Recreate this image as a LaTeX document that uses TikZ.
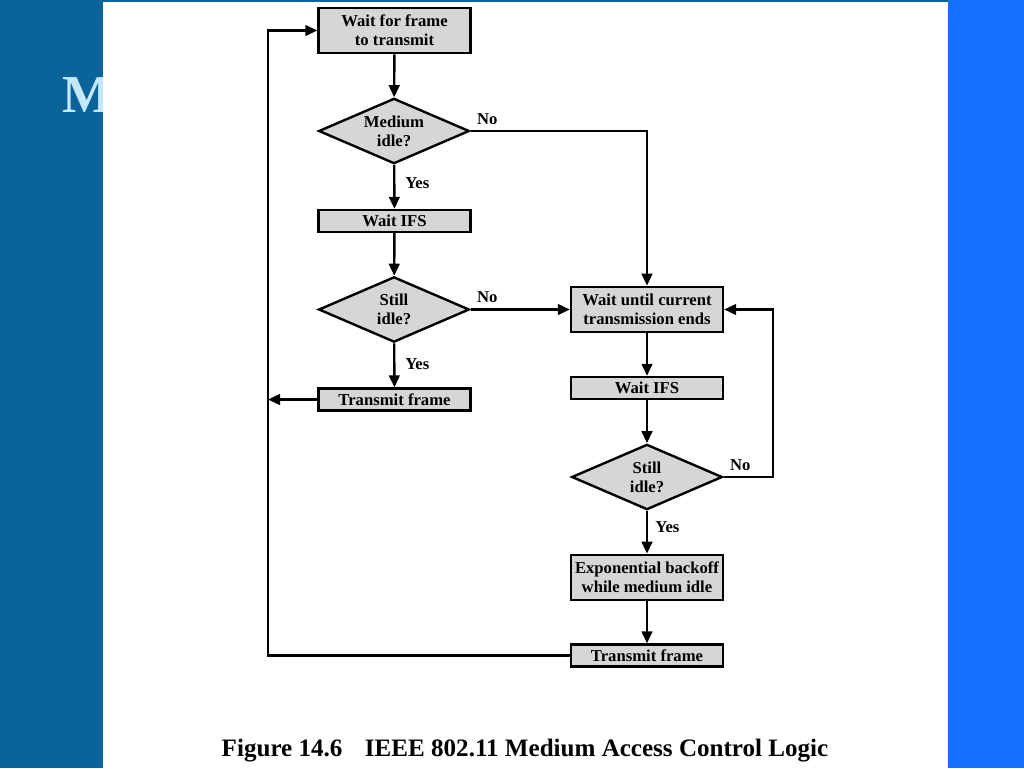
\documentclass[tikz,border=0pt]{standalone}
\usepackage{fontspec}
\setmainfont{Liberation Serif}
\usetikzlibrary{shapes.geometric,arrows.meta}
\definecolor{slideblue}{HTML}{0A6399}
\definecolor{edgeblue}{HTML}{1570FF}
\definecolor{boxgray}{HTML}{D6D6D6}
\definecolor{titlecyan}{HTML}{C4E9FF}

\begin{document}
\begin{tikzpicture}[x=0.75pt, y=-0.75pt,
    box/.style={draw, line width=1.8pt, fill=boxgray, minimum width=114pt, inner sep=0pt,
        align=center, font=\fontsize{12.5}{14}\selectfont\bfseries},
    tallbox/.style={box, minimum height=34pt},
    flatbox/.style={box, minimum height=16.5pt},
    test/.style={box, diamond, aspect=2.3, minimum width=113pt, minimum height=49pt},
    conn/.style={line width=1.8pt, -{Triangle[length=9pt,width=8pt]}},
    lbl/.style={font=\fontsize{12.5}{14}\selectfont\bfseries}]
    \useasboundingbox (0,0) rectangle (1024,768);

    % Slide background
    \fill[slideblue] (0,0) rectangle (948,768);
    \fill[edgeblue] (948,0) rectangle (1024,768);
    \node[anchor=base west, inner sep=0pt, text=titlecyan, font=\fontsize{40}{40}\selectfont\bfseries] (slidetitle) at (62,112) {M};
    \fill[white] (103,2) rectangle (948,768);

    % Left column
    \node[tallbox] (wait) at (394.5,30.5) {Wait for frame\\to transmit};
    \node[test] (medium) at (394,131) {Medium\\idle?};
    \node[flatbox] (ifsa) at (394.5,221) {Wait IFS};
    \node[test] (stilla) at (394,309.5) {Still\\idle?};
    \node[flatbox] (txa) at (394.5,399.5) {Transmit frame};

    % Right column
    \node[tallbox] (until) at (647,309.5) {Wait until current\\transmission ends};
    \node[flatbox] (ifsb) at (647,388) {Wait IFS};
    \node[test] (stillb) at (647,477) {Still\\idle?};
    \node[tallbox] (backoff) at (647,577.5) {Exponential backoff\\while medium idle};
    \node[flatbox] (txb) at (647,655.5) {Transmit frame};

    \coordinate (lloop) at (268,0);
    \coordinate (rloop) at (773,0);

    % Caption
    \node[font=\fontsize{18.8}{22}\selectfont\bfseries] (caption) at (525,751) {Figure 14.6\hspace{0.9em}IEEE 802.11 Medium Access Control Logic};

    % Connectors
    \draw[conn] (wait) -- (medium);
    \draw[conn] (medium) -- node[lbl, right, pos=0.42, xshift=4pt] (yesa) {Yes} (ifsa);
    \draw[conn] (ifsa) -- (stilla);
    \draw[conn] (stilla) -- node[lbl, right, pos=0.47, xshift=4pt] (yesb) {Yes} (txa);
    \draw[conn] (medium.east) node[lbl, anchor=south west, inner sep=4pt] (noa) {No} -| (until.north);
    \draw[conn] (stilla.east) node[lbl, anchor=south west, inner sep=4pt] (nob) {No} -- (stilla.east -| until.west);
    \draw[conn] (txa.west) -- (txa.west -| lloop);

    \draw[conn] (until) -- (ifsb);
    \draw[conn] (ifsb) -- (stillb);
    \draw[conn] (stillb) -- node[lbl, right, pos=0.38, xshift=2pt] (yesc) {Yes} (backoff);
    \draw[conn] (backoff) -- (txb);
    \draw[conn] (stillb.east) node[lbl, anchor=south west, inner sep=4pt] (noc) {No} -| (rloop |- until.east) -- (until.east);
    \draw[conn] (txb.west) -| (lloop |- wait.west) -- (wait.west);
\end{tikzpicture}
\end{document}
